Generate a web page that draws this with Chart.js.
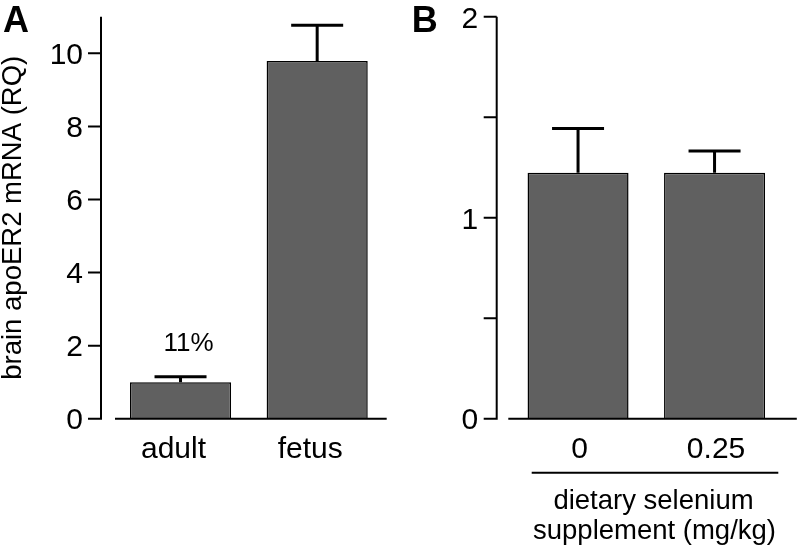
<!DOCTYPE html>
<html>
<head>
<meta charset="utf-8">
<script src="https://cdn.jsdelivr.net/npm/chart.js@4.4.1/dist/chart.umd.min.js"></script>
<style>
  body { margin: 0; background: #fff; }
  #wrap { position: relative; width: 800px; height: 548px; }
  canvas { position: absolute; top: 0; }
</style>
</head>
<body>
<div id="wrap">
  <canvas id="chartA" width="400" height="548" style="left:0"></canvas>
  <canvas id="chartB" width="400" height="548" style="left:400px"></canvas>
</div>
<script>
// panel A: adult vs fetus
const labelsA = ["adult", "fetus"];
const valuesA = [1.0, 9.79];
const errorsA = [0.15, 0.98];
const ticksA = [0, 2, 4, 6, 8, 10];

// panel B: dietary selenium
const labelsB = ["0", "0.25"];
const valuesB = [1.224, 1.224];
const errorsB = [0.22, 0.108];
const ticksB = [0, 0.5, 1, 1.5, 2];
const tickLabelsB = ["0", "", "1", "", "2"];

const FONT = '"Liberation Sans", Arial, sans-serif';

// draws the detached y axis, baseline, error bars and panel letter
function makePanel(cfg) {
  return {
    id: "panel" + cfg.letter,
    afterDatasetsDraw(chart) {
      const { ctx, chartArea: area } = chart;
      const y = chart.scales.y;
      const y0 = y.getPixelForValue(0);
      ctx.save();
      ctx.strokeStyle = "#000";
      ctx.lineWidth = 2;
      const ax = area.left - cfg.axisGap;
      ctx.beginPath();
      ctx.moveTo(ax, y.getPixelForValue(y.max));
      ctx.lineTo(ax, y0 + 1);
      y.ticks.forEach(t => {
        const py = y.getPixelForValue(t.value);
        ctx.moveTo(ax - 13, py);
        ctx.lineTo(ax, py);
      });
      ctx.moveTo(area.left + cfg.baseStart, y0);
      ctx.lineTo(area.right + cfg.baseEnd, y0);
      ctx.stroke();

      const meta = chart.getDatasetMeta(0);
      const vals = chart.data.datasets[0].data;
      ctx.lineWidth = 3;
      cfg.errors.forEach((e, i) => {
        const bar = meta.data[i];
        const top = y.getPixelForValue(vals[i] + e);
        ctx.beginPath();
        ctx.moveTo(bar.x, bar.y);
        ctx.lineTo(bar.x, top);
        ctx.moveTo(bar.x - 26, top);
        ctx.lineTo(bar.x + 26, top);
        ctx.stroke();
      });

      ctx.fillStyle = "#000";
      ctx.font = "bold 36px " + FONT;
      ctx.textAlign = "left";
      ctx.textBaseline = "alphabetic";
      ctx.fillText(cfg.letter, cfg.letterX, 32);
      if (cfg.extra) cfg.extra(chart, ctx);
      ctx.restore();
    }
  };
}

function barSet(values) {
  return {
    data: values,
    backgroundColor: "#606060",
    borderColor: "#000",
    borderWidth: 1.5,
    borderSkipped: "bottom",
    barPercentage: 0.74,
    categoryPercentage: 1
  };
}

new Chart(document.getElementById("chartA"), {
  type: "bar",
  data: { labels: labelsA, datasets: [barSet(valuesA)] },
  options: {
    responsive: false,
    animation: false,
    layout: { padding: { top: 16.8, right: 14.5, left: 0, bottom: 0 } },
    plugins: { legend: { display: false }, tooltip: { enabled: false } },
    scales: {
      x: {
        grid: { display: false, drawTicks: false },
        border: { display: false },
        ticks: { color: "#000", font: { family: FONT, size: 30 }, padding: 13, labelOffset: -7 },
        afterFit: s => { s.height = 129.3; s.paddingLeft = 0; s.paddingRight = 0; }
      },
      y: {
        min: 0,
        max: 11,
        grid: { display: false, drawTicks: false },
        border: { display: false },
        afterBuildTicks: s => { s.ticks = ticksA.map(v => ({ value: v })); },
        ticks: { color: "#000", font: { family: FONT, size: 30 }, padding: 29.2, labelOffset: 2.5 },
        title: {
          display: true,
          text: "brain apoER2 mRNA (RQ)",
          color: "#000",
          font: { family: FONT, size: 27.5, lineHeight: 1 },
          padding: 0
        },
        afterFit: s => { s.width = 112.2; s.paddingTop = 0; s.paddingBottom = 0; }
      }
    }
  },
  plugins: [makePanel({
    letter: "A", letterX: 3, axisGap: 11.2, baseStart: 2.8, baseEnd: 1.2, errors: errorsA,
    extra(chart, ctx) {
      const bar = chart.getDatasetMeta(0).data[0];
      const top = chart.scales.y.getPixelForValue(valuesA[0] + errorsA[0]);
      ctx.font = "26px " + FONT;
      ctx.textAlign = "center";
      ctx.textBaseline = "middle";
      ctx.fillText("11%", bar.x + 8, top - 33);
    }
  })]
});

new Chart(document.getElementById("chartB"), {
  type: "bar",
  data: { labels: labelsB, datasets: [barSet(valuesB)] },
  options: {
    responsive: false,
    animation: false,
    layout: { padding: { top: 16.8, right: 17.2, left: 0, bottom: 0 } },
    plugins: { legend: { display: false }, tooltip: { enabled: false } },
    scales: {
      x: {
        grid: { display: false, drawTicks: false },
        border: { display: false },
        ticks: { color: "#000", font: { family: FONT, size: 30 }, padding: 13, labelOffset: 1.5 },
        afterFit: s => { s.height = 129.3; s.paddingLeft = 0; s.paddingRight = 0; }
      },
      y: {
        min: 0,
        max: 2,
        grid: { display: false, drawTicks: false },
        border: { display: false },
        afterBuildTicks: s => { s.ticks = ticksB.map(v => ({ value: v })); },
        ticks: {
          color: "#000",
          font: { family: FONT, size: 30 },
          padding: 31.5,
          labelOffset: 2.5,
          callback: (v, i) => tickLabelsB[i]
        },
        afterFit: s => { s.width = 109.8; s.paddingTop = 0; s.paddingBottom = 0; }
      }
    }
  },
  plugins: [makePanel({
    letter: "B", letterX: 11.7, axisGap: 13.1, baseStart: -1.5, baseEnd: 14, errors: errorsB,
    extra(chart, ctx) {
      ctx.lineWidth = 2;
      ctx.beginPath();
      ctx.moveTo(131.7, 472.7);
      ctx.lineTo(378.3, 472.7);
      ctx.stroke();
      ctx.font = "27.5px " + FONT;
      ctx.textAlign = "center";
      ctx.textBaseline = "middle";
      ctx.fillText("dietary selenium", 253.5, 501.6);
      ctx.fillText("supplement (mg/kg)", 254.5, 531);
    }
  })]
});
</script>
</body>
</html>
